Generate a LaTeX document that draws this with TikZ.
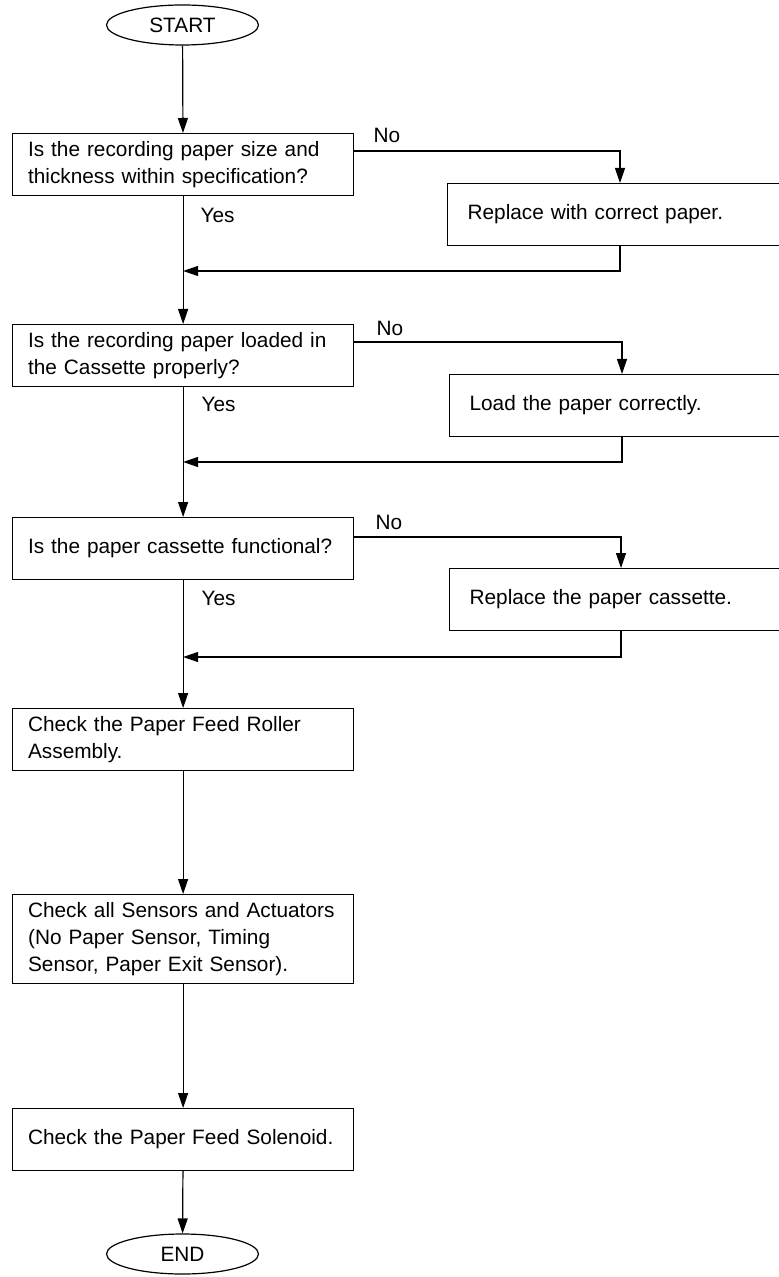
\documentclass[tikz,border=0pt]{standalone}
\usepackage{fontspec}
\setmainfont{Liberation Sans}
\usetikzlibrary{arrows.meta, shapes.geometric}

\begin{document}
\begin{tikzpicture}[x=0.5pt, y=-0.5pt, line width=0.6pt,
    font=\fontsize{10.4}{13.5}\selectfont,
    term/.style={draw, ellipse, minimum width=76pt, minimum height=20pt, inner sep=0pt},
    askbox/.style={draw, rectangle, anchor=north west, text width=155pt, inner xsep=7.75pt, minimum height=31pt, align=left},
    fixbox/.style={draw, rectangle, anchor=north west, text width=147.5pt, inner xsep=10pt, minimum height=31pt, align=left},
    flow/.style={-{Triangle[length=7.5pt,width=5pt]}},
    tag/.style={anchor=west, inner sep=0pt}]
                \useasboundingbox (0,0) rectangle (779,1277);
                \node[term] (start) at (182.5,25) {START};
                \node[askbox] (q1) at (12,133) {Is the recording paper size and\\thickness within specification?};
                \node[fixbox] (fix1) at (447,183) {Replace with correct paper.};
                \node[askbox] (q2) at (12,324) {Is the recording paper loaded in\\the Cassette properly?};
                \node[fixbox] (fix2) at (449,374) {Load the paper correctly.};
                \node[askbox] (q3) at (12,517) {Is the paper cassette functional?};
                \node[fixbox] (fix3) at (449,568) {Replace the paper cassette.};
                \node[askbox] (chk1) at (12,708) {Check the Paper Feed Roller\\Assembly.};
                \node[askbox, minimum height=44.5pt] (chk2) at (12,894) {Check all Sensors and Actuators\\(No Paper Sensor, Timing\\Sensor, Paper Exit Sensor).};
                \node[askbox] (chk3) at (12,1108) {Check the Paper Feed Solenoid.};
                \node[term] (end) at (182.5,1254) {END};
                \node[tag] (no1) at (373,135) {No};
                \node[tag] (yes1) at (200,215) {Yes};
                \node[tag] (no2) at (376,328) {No};
                \node[tag] (yes2) at (201,404) {Yes};
                \node[tag] (no3) at (375,522) {No};
                \node[tag] (yes3) at (201,598) {Yes};
                \coordinate (n1) at (620,151);
                \coordinate (r1) at (620,271);
                \coordinate (n2) at (622,342);
                \coordinate (r2) at (622,462);
                \coordinate (n3) at (621,537);
                \coordinate (r3) at (621,657);
                \draw[flow] (start) -- (q1);
                \draw[flow] (q1) -- (q2);
                \draw[flow] (q2) -- (q3);
                \draw[flow] (q3) -- (chk1);
                \draw[flow] (chk1) -- (chk2);
                \draw[flow] (chk2) -- (chk3);
                \draw[flow] (chk3) -- (end);
                \draw[flow] (q1.east |- n1) -- (n1) -- (fix1.north -| n1);
                \draw[flow] (fix1.south -| r1) -- (r1) -- (r1 -| q1.south);
                \draw[flow] (q2.east |- n2) -- (n2) -- (fix2.north -| n2);
                \draw[flow] (fix2.south -| r2) -- (r2) -- (r2 -| q2.south);
                \draw[flow] (q3.east |- n3) -- (n3) -- (fix3.north -| n3);
                \draw[flow] (fix3.south -| r3) -- (r3) -- (r3 -| q3.south);
            \end{tikzpicture}
\end{document}
